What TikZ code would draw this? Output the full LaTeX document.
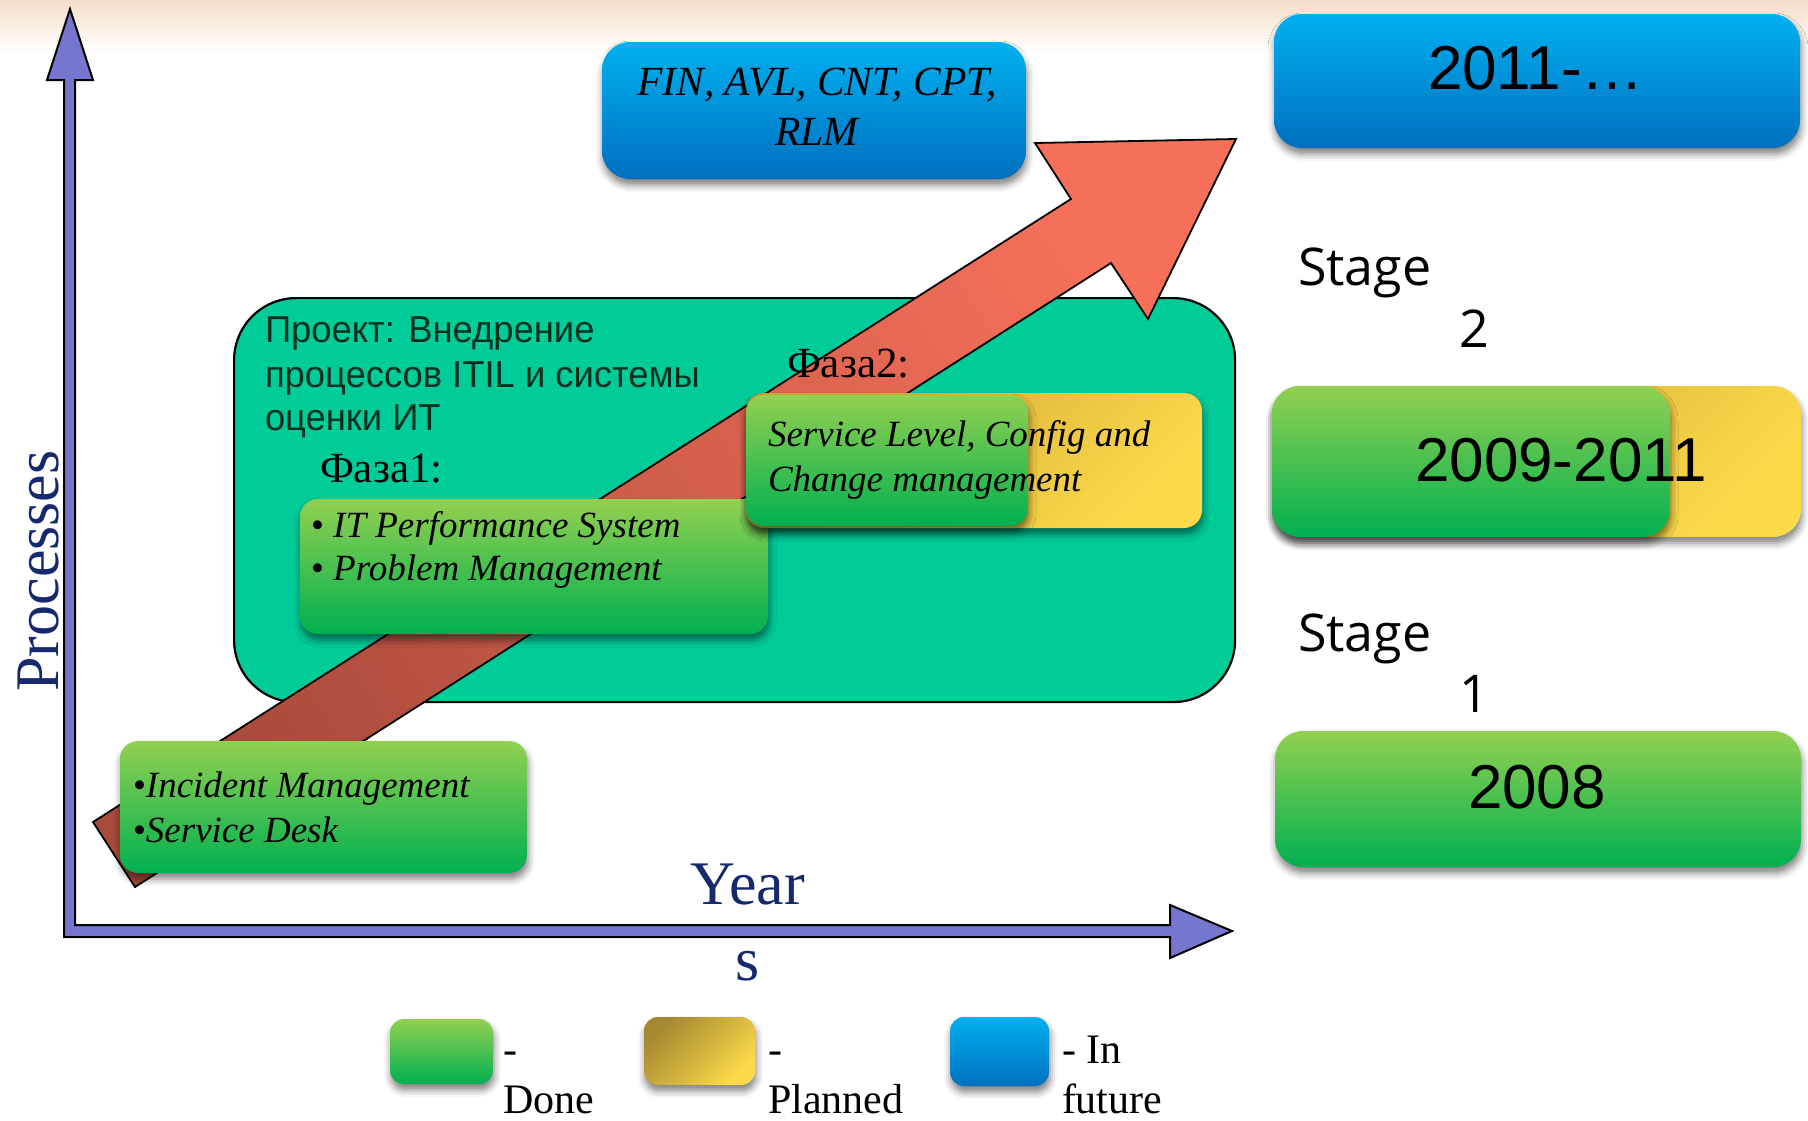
\documentclass[tikz,border=0pt]{standalone}
\usepackage{fontspec}
\setmainfont{Liberation Serif}
\newfontfamily\arialf{Liberation Sans}
\newfontfamily\narrowf[FakeStretch=0.97]{Liberation Sans}
\newfontfamily\openf{Open Sans}
\usetikzlibrary{shadows.blur}
\definecolor{gtop}{RGB}{146,208,80}
\definecolor{gbot}{RGB}{0,176,80}
\definecolor{btop}{RGB}{0,176,240}
\definecolor{bbot}{RGB}{0,112,192}
\definecolor{ydark}{RGB}{208,164,52}
\definecolor{ylight}{RGB}{252,218,74}
\definecolor{ylegdark}{RGB}{166,136,48}
\definecolor{projteal}{RGB}{0,204,153}
\definecolor{axisfill}{RGB}{118,118,206}
\definecolor{axisnavy}{RGB}{22,40,110}
\definecolor{projtext}{RGB}{4,48,32}
\definecolor{arrdark}{RGB}{168,74,60}
\definecolor{arrlight}{RGB}{246,112,90}
\definecolor{haze}{RGB}{245,222,200}
\begin{document}
\begin{tikzpicture}[x=1pt,y=-1pt,
  sh/.style={blur shadow={shadow xshift=1pt, shadow yshift=-6pt, shadow blur radius=7pt, shadow opacity=50}},
  boxbase/.style={rectangle, anchor=north west, inner sep=0pt, outer sep=0pt, sh},
  greenbox/.style={boxbase, top color=gtop, bottom color=gbot},
  bluebox/.style={boxbase, top color=btop, bottom color=bbot},
  yellowbox/.style={boxbase, top color=ydark, bottom color=ylight, shading angle=45},
  lbl/.style={inner sep=0pt, outer sep=0pt, anchor=base west},
  itxt/.style={lbl, font=\fontsize{37}{44}\selectfont\itshape},
  bigsans/.style={inner sep=0pt, outer sep=0pt, anchor=base, font=\arialf\fontsize{62}{70}\selectfont},
  stagetxt/.style={lbl, font=\openf\fontsize{52}{60}\selectfont},
  proj/.style={lbl, text=projtext, font=\narrowf\fontsize{37.5}{44}\selectfont},
  faza/.style={lbl, font=\fontsize{43}{50}\selectfont},
  axistxt/.style={inner sep=0pt, outer sep=0pt, anchor=base, text=axisnavy, font=\fontsize{62}{70}\selectfont},
  legtxt/.style={lbl, font=\fontsize{42}{50}\selectfont}
]
\useasboundingbox (0,0) rectangle (1808,1120);
% background haze
\fill[top color=haze, bottom color=white] (0,0) rectangle (1808,52);

% axes
\draw[fill=axisfill, line width=2pt, line join=miter]
  (64,937) -- (64,80) -- (47,80) -- (70,9) -- (93,80) -- (75,80) -- (75,925)
  -- (1170,925) -- (1170,905) -- (1232,931) -- (1170,958) -- (1170,937) -- cycle;

% project box
\node[rectangle, anchor=north west, inner sep=0pt, minimum width=1001pt, minimum height=404pt,
  rounded corners=62pt, fill=projteal, draw=black, line width=2.2pt] (projbox) at (233,297) {};

% red arrow
\draw[line width=1.8pt, bottom color=arrdark, top color=arrlight, shading angle=-57]
  (93,822) -- (1071,199) -- (1035,143) -- (1236,139) -- (1148,319) -- (1111,263) -- (135,887) -- cycle;

% project text
\node[proj] (p1) at (265,342) {Проект: Внедрение};
\node[proj] (p2) at (265,387) {процессов ITIL и системы};
\node[proj] (p3) at (265,430) {оценки ИТ};
\node[faza] (f1) at (320,482) {Фаза1:};

% IT box
\node[greenbox, rounded corners=18pt, minimum width=468pt, minimum height=135pt] (itbox) at (300,499) {};
\node[itxt] (it1) at (311,537) {\upshape•\ \itshape IT Performance System};
\node[itxt] (it2) at (311,580) {\upshape•\ \itshape Problem Management};

% Service level boxes
\node[yellowbox, rounded corners=18pt, minimum width=456pt, minimum height=135pt] (slyel) at (746,393) {};
\node[greenbox, rounded corners=18pt, minimum width=282pt, minimum height=131pt] (slgreen) at (746,395) {};
\node[faza] (f2) at (787,377) {Фаза2:};
\node[itxt] (sl1) at (768,446) {Service Level, Config and};
\node[itxt] (sl2) at (768,491) {Change management};

% Incident box
\node[greenbox, rounded corners=18pt, minimum width=407pt, minimum height=132pt] (incbox) at (120,741) {};
\node[itxt] (inc1) at (133,797) {\upshape•\itshape Incident Management};
\node[itxt] (inc2) at (133,842) {\upshape•\itshape Service Desk};

% FIN box
\node[bluebox, rounded corners=28pt, minimum width=424pt, minimum height=137pt] (finbox) at (602,42) {};
\node[inner sep=0pt, anchor=base, font=\fontsize{41.5}{50}\selectfont\itshape] (fin1) at (817,95) {FIN, AVL, CNT, CPT,};
\node[inner sep=0pt, anchor=base, font=\fontsize{41.5}{50}\selectfont\itshape] (fin2) at (817,145) {RLM};

% axis labels
\node[axistxt, rotate=90] (proc) at (58,571) {Processes};
\node[axistxt] (year) at (748,904) {Year};
\node[axistxt] (years) at (748,980) {s};

% right column
\node[bluebox, rounded corners=28pt, minimum width=526pt, minimum height=134pt] (b2011) at (1274,14) {};
\node[bigsans] (t2011) at (1536,89) {2011-…};
\node[stagetxt] (st2) at (1298,285) {Stage};
\node[stagetxt] (st2n) at (1459,347) {2};
\node[yellowbox, rounded corners=28pt, minimum width=529pt, minimum height=151pt] (b2009y) at (1272,386) {};
\node[greenbox, rounded corners=28pt, minimum width=398pt, minimum height=151pt] (b2009g) at (1272,386) {};
\node[bigsans] (t2009) at (1561,481) {2009-2011};
\node[stagetxt] (st1) at (1298,651) {Stage};
\node[stagetxt] (st1n) at (1459,712) {1};
\node[greenbox, rounded corners=28pt, minimum width=526pt, minimum height=136pt] (b2008) at (1275,731) {};
\node[bigsans] (t2008) at (1537,808) {2008};

% legend
\node[greenbox, rounded corners=14pt, minimum width=103pt, minimum height=65pt] (lg) at (390,1019) {};
\node[legtxt] (lg1) at (503,1063) {-};
\node[legtxt] (lg2) at (503,1113) {Done};
\node[boxbase, top color=ylegdark, bottom color=ylight, shading angle=45, rounded corners=14pt, minimum width=111pt, minimum height=68pt] (ly) at (644,1017) {};
\node[legtxt] (ly1) at (768,1063) {-};
\node[legtxt] (ly2) at (768,1113) {Planned};
\node[bluebox, rounded corners=14pt, minimum width=99pt, minimum height=69pt] (lb) at (950,1017) {};
\node[legtxt] (lb1) at (1062,1063) {- In};
\node[legtxt] (lb2) at (1062,1113) {future};
\end{tikzpicture}
\end{document}
